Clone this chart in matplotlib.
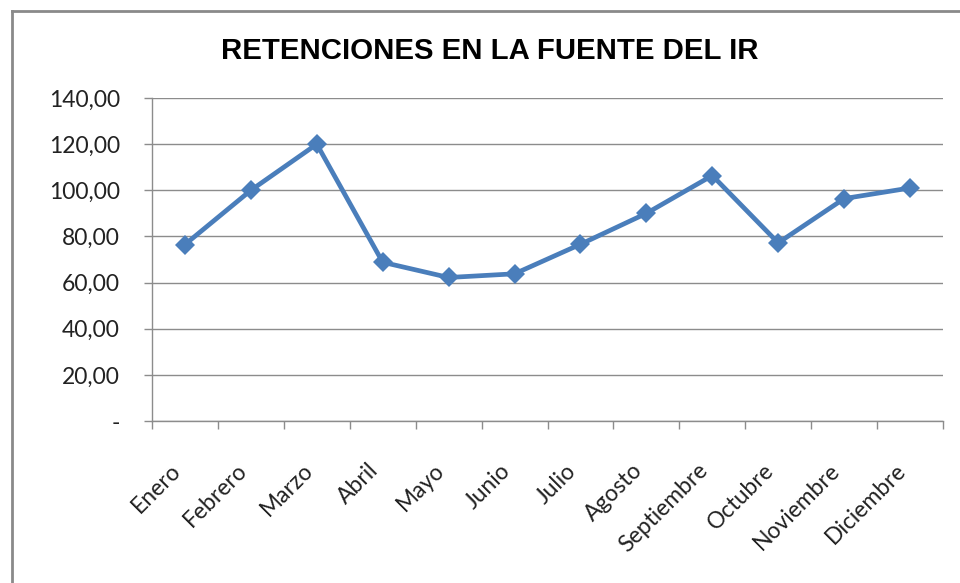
import numpy as np
import matplotlib.pyplot as plt
from matplotlib.lines import Line2D

# --- data ---
meses = ["Enero", "Febrero", "Marzo", "Abril", "Mayo", "Junio", "Julio",
         "Agosto", "Septiembre", "Octubre", "Noviembre", "Diciembre"]
retenciones = [76.5, 100.0, 120.0, 68.8, 62.2, 63.8, 76.6, 90.0, 106.4, 77.2, 96.4, 101.0]
y_ticks = [0, 20, 40, 60, 80, 100, 120, 140]
y_labels = ["-", "20,00", "40,00", "60,00", "80,00", "100,00", "120,00", "140,00"]

W, H = 960, 583
fig = plt.figure(figsize=(W / 100, H / 100), dpi=100)
ax = fig.add_axes([152 / W, 1 - 421 / H, (943 - 152) / W, (421 - 98) / H])

x = np.arange(len(meses))
ax.plot(x, retenciones, color="#4a7ebb", lw=3.4, marker="D", ms=10,
        markeredgewidth=0, zorder=3)

grid_c = "#8c8c8c"
ax.set_ylim(0, 140)
ax.set_xlim(-0.5, len(meses) - 0.5)
ax.set_yticks(y_ticks)
ax.set_yticklabels(y_labels, fontsize=16.5, family="Lato", color="#222222")
ax.yaxis.grid(True, color=grid_c, lw=1)
ax.set_axisbelow(True)
ax.tick_params(axis="y", length=6, width=1, color=grid_c, pad=17)

# category labels at centers, tick marks at boundaries
ax.set_xticks(x)
ax.set_xticklabels(meses, rotation=45, ha="right", va="top", fontsize=16.5,
                   family="Lato", color="#222222")
ax.tick_params(axis="x", which="major", length=0, pad=28)
ax.set_xticks(np.arange(-0.5, len(meses)), minor=True)
ax.tick_params(axis="x", which="minor", length=6, width=1, color=grid_c)

for s in ["top", "right"]:
    ax.spines[s].set_visible(False)
for s in ["left", "bottom"]:
    ax.spines[s].set_color(grid_c)
    ax.spines[s].set_linewidth(1)

fig.text(490 / W, 1 - 51 / H, "RETENCIONES EN LA FUENTE DEL IR", ha="center",
         va="center", fontsize=21.2, fontweight="bold", family="Liberation Sans")

# outer chart frame (left and top visible)
fig.add_artist(Line2D([11.5 / W, 11.5 / W], [0, 1 - 10.5 / H], color="#8a8a8a",
                      lw=2, transform=fig.transFigure))
fig.add_artist(Line2D([11.5 / W, 1], [1 - 10.5 / H, 1 - 10.5 / H], color="#8a8a8a",
                      lw=2, transform=fig.transFigure))

fig.savefig("out.png", dpi=100)
